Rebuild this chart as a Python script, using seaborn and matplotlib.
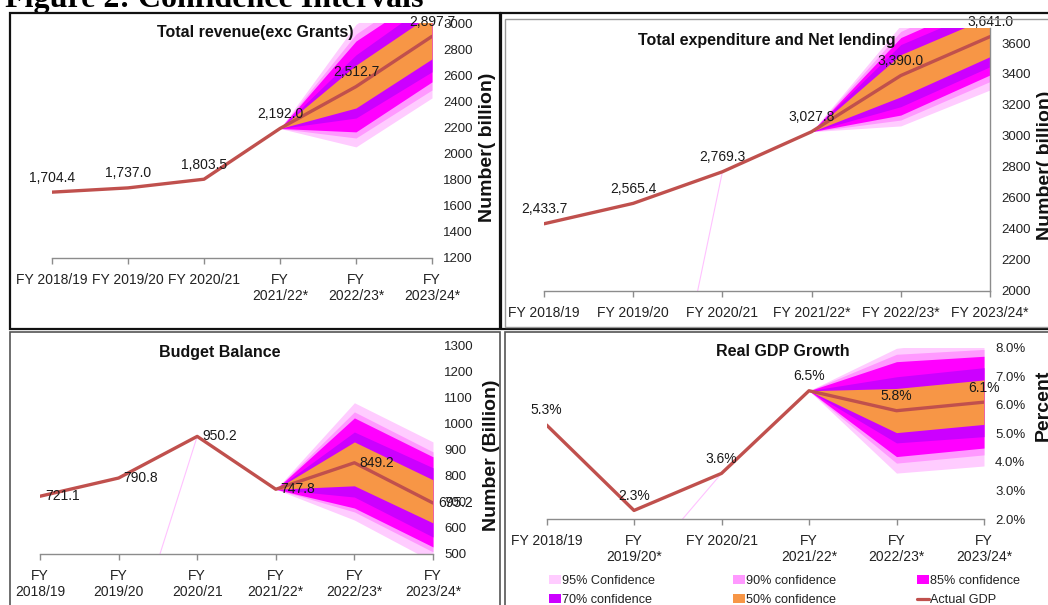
import matplotlib
matplotlib.use("Agg")
import matplotlib.pyplot as plt
import matplotlib.font_manager as fm
from matplotlib.patches import Rectangle, Patch
from matplotlib.lines import Line2D
from matplotlib.ticker import FuncFormatter
import seaborn as sns

# ---------------- data ----------------
x_rev = ["FY 2018/19", "FY 2019/20", "FY 2020/21", "FY\n2021/22*", "FY\n2022/23*", "FY\n2023/24*"]
x_exp = ["FY 2018/19", "FY 2019/20", "FY 2020/21", "FY 2021/22*", "FY 2022/23*", "FY 2023/24*"]
x_bal = ["FY\n2018/19", "FY\n2019/20", "FY\n2020/21", "FY\n2021/22*", "FY\n2022/23*", "FY\n2023/24*"]
x_gdp = ["FY 2018/19", "FY\n2019/20*", "FY 2020/21", "FY\n2021/22*", "FY\n2022/23*", "FY\n2023/24*"]

rev_vals = [1704.4, 1737.0, 1803.5, 2192.0, 2512.7, 2897.7]
exp_vals = [2433.7, 2565.4, 2769.3, 3027.8, 3390.0, 3641.0]
bal_vals = [721.1, 790.8, 950.2, 747.8, 849.2, 695.2]
gdp_vals = [5.3, 2.3, 3.6, 6.5, 5.8, 6.1]

levels = ["95% Confidence", "90% confidence", "85% confidence", "70% confidence", "50% confidence"]

# band bounds (order: 95, 90, 85, 70, 50) at FY2022/23 and FY2023/24
rev_lo_2223 = [2051, 2119, 2166, 2272, 2349]
rev_hi_2223 = [2990, 2915, 2862, 2756, 2677]
rev_lo_2324 = [2426, 2487, 2549, 2626, 2725]
rev_hi_2324 = [3370, 3309, 3247, 3170, 3071]

exp_lo_2223 = [3065, 3103, 3135, 3189, 3253]
exp_hi_2223 = [3715, 3675, 3635, 3590, 3525]
exp_lo_2324 = [3297, 3351, 3394, 3447, 3512]
exp_hi_2324 = [3985, 3931, 3888, 3835, 3770]

bal_lo_2223 = [630, 661, 676, 718, 761]
bal_hi_2223 = [1079, 1044, 1021, 967, 929]
bal_lo_2324 = [470, 508, 527, 565, 619]
bal_hi_2324 = [929, 891, 872, 830, 784]

gdp_lo_2223 = [3.61, 3.96, 4.19, 4.67, 5.03]
gdp_hi_2223 = [7.99, 7.78, 7.52, 6.99, 6.58]
gdp_lo_2324 = [3.86, 4.25, 4.49, 4.89, 5.32]
gdp_hi_2324 = [8.34, 7.95, 7.71, 7.31, 6.88]

# faint stray series visible in three panels
stray_x = [1, 2]
exp_stray = [0, 2769.3]
bal_stray = [0, 950.2]
gdp_stray = [0, 3.6]

# ---------------- style ----------------
band_colors = ["#FFCCFF", "#FF99FF", "#FF00FF", "#CC00FF", "#F79646"]
line_color = "#C0504D"
axis_grey = "#8C8C8C"

sns.set_theme(style="white")
names = {f.name for f in fm.fontManager.ttflist}
if "Liberation Sans Narrow" in names:
    NARROW, NS = "Liberation Sans Narrow", 1.0
else:
    NARROW, NS = "Liberation Sans", 0.87
plt.rcParams["font.family"] = [NARROW, "DejaVu Sans"]

W, H = 1048, 605
fig = plt.figure(figsize=(W / 100, H / 100), dpi=100)
fig.patch.set_facecolor("white")


def fx(px):
    return px / W


def fy(py):
    return 1 - py / H


def make_ax(l, r, t, b):
    return fig.add_axes([fx(l), fy(b), fx(r - l), (b - t) / H])


def draw_panel(ax, vals, lo1, hi1, lo2, hi2, xlabels, ylim, yticks, yfmt,
               label_fmt, label_mode, right_spine=False, stray=None):
    xs = list(range(len(vals)))
    # fan
    for k, col in enumerate(band_colors):
        lo = [vals[3], lo1[k], lo2[k]]
        hi = [vals[3], hi1[k], hi2[k]]
        ax.fill_between([3, 4, 5], lo, hi, color=col, lw=0, zorder=1)
    if stray is not None:
        ax.plot(stray_x, stray, color="#FFC2FF", lw=0.8, zorder=1)
    sns.lineplot(x=xs, y=vals, ax=ax, color=line_color, linewidth=2.4,
                 sort=False, zorder=3)
    ax.set_xlim(0, 5)
    ax.set_ylim(*ylim)
    ax.set_xlabel("")
    ax.set_ylabel("")
    ax.set_xticks(xs)
    ax.set_xticklabels(xlabels, fontsize=11.5 * NS, linespacing=1.2)
    ax.set_yticks(yticks)
    ax.yaxis.set_major_formatter(FuncFormatter(yfmt))
    ax.yaxis.tick_right()
    ax.tick_params(axis="y", length=0, pad=8, labelsize=11 * NS,
                   labelcolor="#222222")
    ax.tick_params(axis="x", direction="out", length=4, width=1,
                   color=axis_grey, pad=6.5, bottom=True, labelcolor="#222222")
    for s in ["top", "left", "right"]:
        ax.spines[s].set_visible(False)
    ax.spines["bottom"].set_color(axis_grey)
    ax.spines["bottom"].set_linewidth(1)
    if right_spine:
        ax.spines["right"].set_visible(True)
        ax.spines["right"].set_color(axis_grey)
        ax.spines["right"].set_linewidth(1)
    ax.set_facecolor("none")
    ax.grid(False)
    for i, v in enumerate(vals):
        if label_mode == "above":
            ax.annotate(label_fmt(v), (i, v), xytext=(0, 10.5),
                        textcoords="offset points", ha="center", va="center",
                        fontsize=11.5 * NS, color="#1a1a1a", zorder=5,
                        annotation_clip=False)
        else:
            ax.annotate(label_fmt(v), (i, v), xytext=(3.5, 0),
                        textcoords="offset points", ha="left", va="center",
                        fontsize=11.5 * NS, color="#1a1a1a", zorder=5,
                        annotation_clip=False)


# ---------------- panels ----------------
ax1 = make_ax(52, 432, 23, 258)
draw_panel(ax1, rev_vals, rev_lo_2223, rev_hi_2223, rev_lo_2324, rev_hi_2324,
           x_rev, (1200, 3000), list(range(1200, 3001, 200)),
           lambda v, p: f"{v:.0f}", lambda v: f"{v:,.1f}", "above")

ax2 = make_ax(544, 990, 27.5, 291)
draw_panel(ax2, exp_vals, exp_lo_2223, exp_hi_2223, exp_lo_2324, exp_hi_2324,
           x_exp, (2000, 3700), list(range(2000, 3601, 200)),
           lambda v, p: f"{v:.0f}", lambda v: f"{v:,.1f}", "above",
           right_spine=True, stray=exp_stray)

ax3 = make_ax(40, 433, 345, 554)
draw_panel(ax3, bal_vals, bal_lo_2223, bal_hi_2223, bal_lo_2324, bal_hi_2324,
           x_bal, (500, 1300), list(range(500, 1301, 100)),
           lambda v, p: f"{v:.0f}", lambda v: f"{v:.1f}", "right",
           stray=bal_stray)

ax4 = make_ax(546.5, 984, 348, 519)
draw_panel(ax4, gdp_vals, gdp_lo_2223, gdp_hi_2223, gdp_lo_2324, gdp_hi_2324,
           x_gdp, (2, 8), [2, 3, 4, 5, 6, 7, 8],
           lambda v, p: f"{v:.1f}%", lambda v: f"{v:.1f}%", "above",
           stray=gdp_stray)

# ---------------- titles & axis labels ----------------
title_kw = dict(family=["Liberation Sans", "DejaVu Sans"], weight="bold",
                fontsize=11.5, ha="center", va="center", color="#111111")
fig.text(fx(255), fy(33), "Total revenue(exc Grants)", **title_kw)
fig.text(fx(767), fy(41), "Total expenditure and Net lending", **title_kw)
fig.text(fx(220), fy(353), "Budget Balance", **title_kw)
fig.text(fx(783), fy(351), "Real GDP Growth", **title_kw)

ylab_kw = dict(family=["Liberation Sans", "DejaVu Sans"], weight="bold",
               fontsize=14, ha="center", va="center", rotation=90,
               color="#111111")
fig.text(fx(488), fy(147), "Number( billion)", **ylab_kw)
fig.text(fx(1046), fy(165), "Number( billion)", **ylab_kw)
fig.text(fx(492), fy(455), "Number (Billion)", **ylab_kw)
fig.text(fx(1043), fy(405), "Percent", **ylab_kw)

# figure heading (cropped at the top in the original)
fig.text(fx(5), fy(7), "Figure 2: Confidence Intervals",
         family=["Liberation Serif", "DejaVu Serif"], weight="bold",
         fontsize=23, ha="left", va="baseline", color="black")

# ---------------- frames ----------------
def frame(l, t, r, b, color="#222222", lw=1.4):
    fig.add_artist(Rectangle((fx(l), fy(b)), fx(r - l), (b - t) / H,
                             transform=fig.transFigure, fill=False,
                             edgecolor=color, linewidth=lw, zorder=10))

frame(10, 13, 500, 329, "#111111", 1.6)
frame(501, 13, 1050, 329, "#111111", 1.6)
frame(505, 19, 1050, 327, "#9A9A9A", 1.0)
frame(10, 332, 500, 610, "#555555", 1.2)
frame(505, 332, 1050, 610, "#555555", 1.2)

# ---------------- legend ----------------
leg_fs = 10.5 * NS
cols = [
    (549, [Patch(facecolor=band_colors[0], edgecolor="none"),
           Patch(facecolor=band_colors[3], edgecolor="none")],
     [levels[0], levels[3]]),
    (733, [Patch(facecolor=band_colors[1], edgecolor="none"),
           Patch(facecolor=band_colors[4], edgecolor="none")],
     [levels[1], levels[4]]),
    (917, [Patch(facecolor=band_colors[2], edgecolor="none"),
           Line2D([0], [0], color=line_color, lw=2.3)],
     [levels[2], "Actual GDP"]),
]
for xl, hs, ls in cols:
    lg = fig.legend(hs, ls, loc="upper left", bbox_to_anchor=(fx(xl), fy(575)),
                    bbox_transform=fig.transFigure, frameon=False,
                    fontsize=leg_fs, handlelength=0.95, handleheight=0.75,
                    handletextpad=0.1, labelspacing=0.55, borderpad=0,
                    borderaxespad=0)
    for t in lg.get_texts():
        t.set_color("#222222")

fig.savefig("out.png", dpi=100, facecolor="white")
